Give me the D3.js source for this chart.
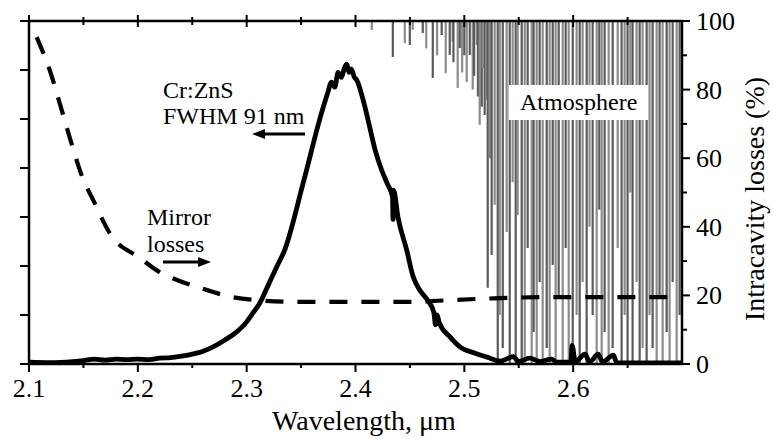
<!DOCTYPE html>
<html>
<head>
<meta charset="utf-8">
<script src="https://cdn.jsdelivr.net/npm/d3@7"></script>
<style>
  body { margin: 0; background: #fff; }
</style>
</head>
<body>
<svg id="chart"></svg>
<script>
// Cr:ZnS emission (left axis, arb. units)
const spectrumWl = [2.100, 2.120, 2.140, 2.150, 2.160, 2.170, 2.180, 2.190, 2.200, 2.210, 2.220, 2.230, 2.240, 2.250,
  2.260, 2.270, 2.280, 2.290, 2.300, 2.305, 2.312, 2.320, 2.328, 2.335, 2.352, 2.369, 2.374, 2.378, 2.381, 2.384,
  2.387, 2.390, 2.392, 2.394, 2.396, 2.399, 2.401, 2.407, 2.413, 2.418, 2.424, 2.429, 2.4340, 2.4345, 2.4350,
  2.439, 2.447, 2.453, 2.459, 2.466, 2.472, 2.4735, 2.475, 2.477, 2.487, 2.496, 2.510, 2.521, 2.533, 2.545,
  2.550, 2.560, 2.570, 2.580, 2.585, 2.598, 2.599, 2.602, 2.611, 2.615, 2.623, 2.627, 2.637, 2.640, 2.650, 2.700];
const spectrumInt = [0.04, 0.03, 0.05, 0.07, 0.10, 0.08, 0.10, 0.09, 0.10, 0.09, 0.12, 0.13, 0.16, 0.20,
  0.26, 0.36, 0.49, 0.64, 0.86, 1.02, 1.24, 1.62, 2.00, 2.33, 3.70, 5.14, 5.50, 5.75, 5.65, 5.95,
  5.85, 6.05, 6.12, 5.95, 6.02, 5.85, 5.80, 5.39, 4.84, 4.37, 3.96, 3.69, 3.41, 2.95, 3.55,
  3.00, 2.33, 1.78, 1.51, 1.31, 1.05, 0.80, 1.00, 0.84, 0.55, 0.35, 0.22, 0.14, 0.06, 0.15,
  0.05, 0.12, 0.05, 0.10, 0.04, 0.04, 0.38, 0.05, 0.20, 0.04, 0.20, 0.04, 0.18, 0.03, 0.02, 0.02];

// mirror losses (right axis, %)
const mirrorWl = [2.107, 2.119, 2.130, 2.140, 2.149, 2.159, 2.174, 2.202, 2.220, 2.236, 2.257, 2.287, 2.306,
  2.349, 2.441, 2.514, 2.578, 2.700];
const mirrorLoss = [95.3, 85.7, 74.1, 63.3, 54.5, 47.8, 38.2, 30.9, 26.8, 24.5, 22.2, 19.5, 18.7,
  18.1, 18.1, 19.0, 19.5, 19.5];

// atmospheric transmission: absorption line positions and their minimum (%)
const atmWl = [2.4150, 2.4343, 2.4453, 2.4499, 2.4526, 2.4618, 2.4650, 2.4710, 2.4750, 2.4792, 2.4829, 2.4866,
  2.4893, 2.4900, 2.4939, 2.4958, 2.4980, 2.5000, 2.5022, 2.5050, 2.5077, 2.5090, 2.5114, 2.5125, 2.5141,
  2.5160, 2.5169, 2.5187, 2.5205, 2.5215, 2.5235, 2.5251, 2.5279, 2.5307,
  2.5325, 2.5353, 2.5389, 2.5417, 2.5444, 2.5472, 2.5490, 2.5527, 2.5555, 2.5582, 2.5619, 2.5637, 2.5665,
  2.5692, 2.5720, 2.5757, 2.5784, 2.5812, 2.5839, 2.5867, 2.5904, 2.5931, 2.5959, 2.5996, 2.6032, 2.6060,
  2.6087, 2.6124, 2.6150, 2.6179, 2.6216, 2.6240, 2.6262, 2.6289, 2.6326, 2.6363, 2.6409, 2.6445, 2.6473,
  2.6500, 2.6525, 2.6546, 2.6583, 2.6611, 2.6638, 2.6675, 2.6702, 2.6730, 2.6767, 2.6794, 2.6822, 2.6859,
  2.6886, 2.6914, 2.6951, 2.6978];
const atmMin = [97.4, 89.5, 93.6, 93.0, 97.4, 96.5, 92.0, 83.4, 90.0, 95.9, 84.8, 90.1,
  93.9, 88.0, 80.5, 92.1, 85.0, 90.0, 82.2, 90.1, 80.0, 84.0, 93.0, 78.0, 69.7,
  75.0, 86.3, 72.6, 77.0, 22.2, 60.0, 31.8, 46.4, 0,
  14.3, 4.7, 38.5, 0, 53.0, 0, 43.4, 0.6, 0, 33.8, 0, 9.3, 0,
  23.9, 0, 4.7, 0, 28.9, 0, 19.2, 0, 33.8, 0, 0, 14.3, 0,
  23.9, 0, 40.0, 14.3, 0, 45.0, 0, 9.3, 0, 4.7, 33.8, 0, 14.3,
  0, 50.0, 0, 23.9, 0, 4.7, 0, 14.3, 4.7, 0, 19.2, 0, 9.3,
  0, 23.9, 0, 14.3];

const xMajor = [2.1, 2.2, 2.3, 2.4, 2.5, 2.6];
const rightMajor = [0, 20, 40, 60, 80, 100];
const leftMajor = [0, 1, 2, 3, 4, 5, 6, 7];

const FONT = 'Liberation Serif';
const W = 773, H = 439;
const svg = d3.select('#chart').attr('width', W).attr('height', H);
svg.append('rect').attr('width', W).attr('height', H).attr('fill', '#fff');

const x = d3.scaleLinear().domain([2.1, 2.7]).range([29, 682]);
const yR = d3.scaleLinear().domain([0, 100]).range([364, 21]);
const yL = d3.scaleLinear().domain([0, 7]).range([364, 21]);

svg.append('clipPath').attr('id', 'plot')
  .append('rect').attr('x', 29).attr('y', 21).attr('width', 653).attr('height', 343);

// atmosphere
svg.append('g').attr('clip-path', 'url(#plot)')
  .selectAll('line')
  .data(atmWl.map((w, i) => ({ w, t: atmMin[i] })))
  .enter().append('line')
  .attr('x1', d => x(d.w)).attr('x2', d => x(d.w))
  .attr('y1', yR(100)).attr('y2', d => yR(d.t))
  .attr('stroke', (d, i) => i % 2 ? '#5a5a5a' : '#8c8c8c')
  .attr('stroke-width', 2.2);

// Atmosphere label box
svg.append('rect').attr('x', 509).attr('y', 85).attr('width', 139).attr('height', 35).attr('fill', '#fff');
svg.append('text').attr('x', 520).attr('y', 110).attr('font-family', FONT).attr('font-size', 24).text('Atmosphere');

// mirror losses
svg.append('path')
  .datum(mirrorWl.map((w, i) => [w, mirrorLoss[i]]))
  .attr('fill', 'none').attr('stroke', '#000').attr('stroke-width', 4.2)
  .attr('stroke-dasharray', '18,14')
  .attr('d', d3.line().x(d => x(d[0])).y(d => yR(d[1])).curve(d3.curveMonotoneX));

// spectrum
svg.append('path')
  .datum(spectrumWl.map((w, i) => [w, spectrumInt[i]]))
  .attr('clip-path', 'url(#plot)')
  .attr('fill', 'none').attr('stroke', '#000').attr('stroke-width', 4.8)
  .attr('stroke-linejoin', 'round')
  .attr('d', d3.line().x(d => x(d[0])).y(d => yL(d[1])).curve(d3.curveMonotoneX));

// frame and ticks
const frame = svg.append('g');
frame.append('rect').attr('x', 29).attr('y', 21).attr('width', 653).attr('height', 343)
  .attr('fill', 'none').attr('stroke', '#000').attr('stroke-width', 2.5);

const xMinor = d3.range(2.15, 2.7, 0.1);
frame.selectAll('.bt').data(xMajor).enter().append('line')
  .attr('x1', d => x(d)).attr('x2', d => x(d)).attr('y1', 364).attr('y2', 372)
  .attr('stroke', '#000').attr('stroke-width', 2);
frame.selectAll('.bm').data(xMinor).enter().append('line')
  .attr('x1', d => x(d)).attr('x2', d => x(d)).attr('y1', 364).attr('y2', 368)
  .attr('stroke', '#000').attr('stroke-width', 2);
frame.selectAll('.tt').data(xMajor).enter().append('line')
  .attr('x1', d => x(d)).attr('x2', d => x(d)).attr('y1', 15).attr('y2', 27)
  .attr('stroke', '#000').attr('stroke-width', 2);
frame.selectAll('.tm').data(xMinor).enter().append('line')
  .attr('x1', d => x(d)).attr('x2', d => x(d)).attr('y1', 17).attr('y2', 25)
  .attr('stroke', '#000').attr('stroke-width', 2);
frame.selectAll('.lt').data(leftMajor).enter().append('line')
  .attr('x1', 20).attr('x2', 29).attr('y1', d => yL(d)).attr('y2', d => yL(d))
  .attr('stroke', '#000').attr('stroke-width', 2);
frame.selectAll('.rt').data(rightMajor).enter().append('line')
  .attr('x1', 682).attr('x2', 690).attr('y1', d => yR(d)).attr('y2', d => yR(d))
  .attr('stroke', '#000').attr('stroke-width', 2);
frame.selectAll('.rm').data(d3.range(10, 100, 20)).enter().append('line')
  .attr('x1', 682).attr('x2', 687).attr('y1', d => yR(d)).attr('y2', d => yR(d))
  .attr('stroke', '#000').attr('stroke-width', 2);

// tick labels
frame.selectAll('.bl').data(xMajor).enter().append('text')
  .attr('x', d => x(d)).attr('y', 397).attr('text-anchor', 'middle')
  .attr('font-family', FONT).attr('font-size', 26).text(d => d3.format('.1f')(d));
frame.selectAll('.rl').data(rightMajor).enter().append('text')
  .attr('x', 696).attr('y', d => yR(d) + 9)
  .attr('font-family', FONT).attr('font-size', 26).text(d => d);

// axis titles
svg.append('text').attr('x', 364).attr('y', 430).attr('text-anchor', 'middle')
  .attr('font-family', FONT).attr('font-size', 28).text('Wavelength, \u03bcm');
svg.append('text').attr('transform', 'translate(764,199) rotate(-90)')
  .attr('text-anchor', 'middle').attr('font-family', FONT).attr('font-size', 28)
  .text('Intracavity losses (%)');

// annotations
[['Cr:ZnS', 163, 98], ['FWHM 91 nm', 163, 124], ['Mirror', 147, 225], ['losses', 147, 252]]
  .forEach(([t, tx, ty]) => {
    svg.append('text').attr('x', tx).attr('y', ty)
      .attr('font-family', FONT).attr('font-size', 24).text(t);
  });

function arrow(x1, x2, y) {
  const dir = Math.sign(x2 - x1);
  svg.append('line').attr('x1', x1).attr('x2', x2 - dir * 10).attr('y1', y).attr('y2', y)
    .attr('stroke', '#000').attr('stroke-width', 3);
  svg.append('path')
    .attr('d', `M${x2},${y} L${x2 - dir * 13},${y - 5} L${x2 - dir * 13},${y + 5} Z`)
    .attr('fill', '#000');
}
arrow(305, 252, 134);
arrow(163, 211, 262);
</script>
</body>
</html>
